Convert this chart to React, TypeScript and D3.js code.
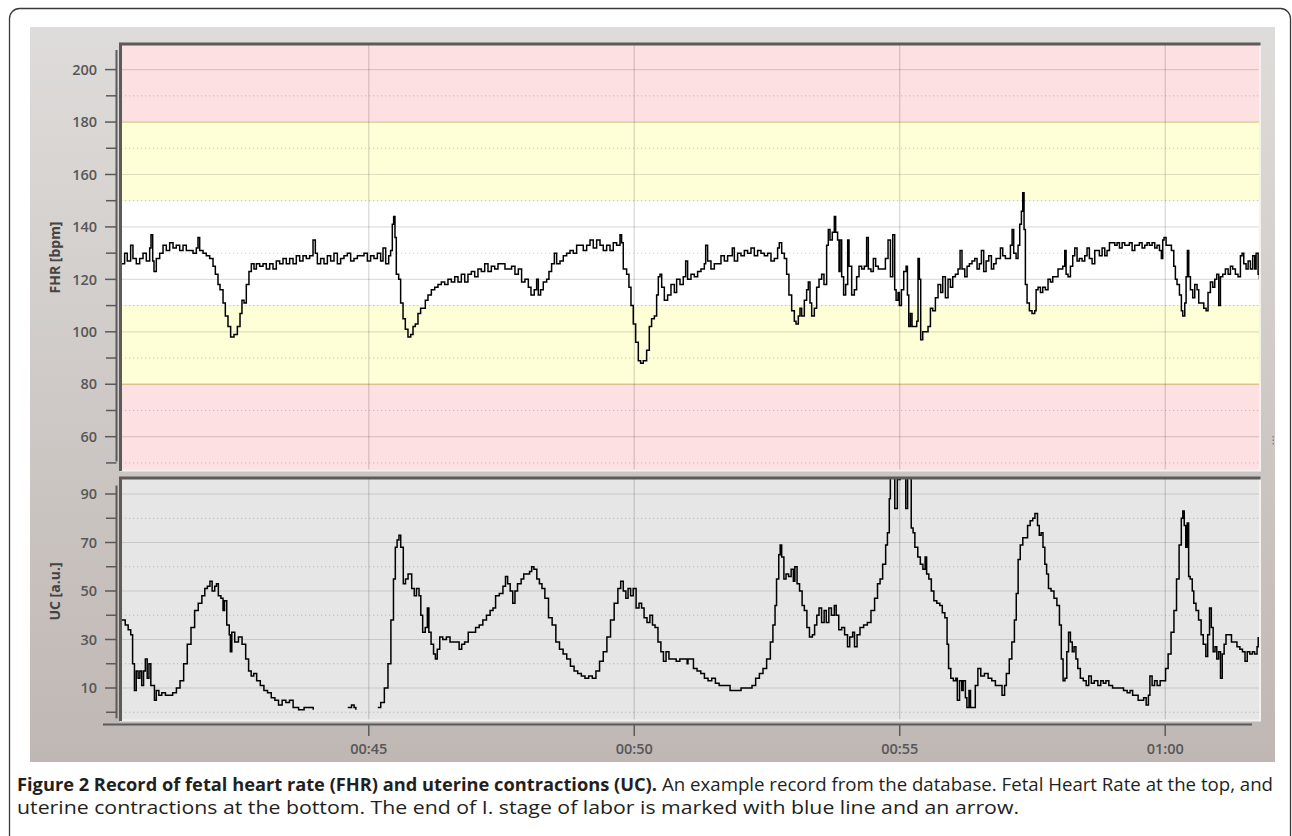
import React from "react";
import * as d3 from "d3";

// ---- DATA (time in seconds after 00:40:00) ----
const timeTicks = [300, 600, 900, 1200];
const timeLabels = ["00:45", "00:50", "00:55", "01:00"];
const fhrTicks = [60, 80, 100, 120, 140, 160, 180, 200];
const fhrMinorTicks = [50, 70, 90, 110, 130, 150, 170, 190];
const ucTicks = [10, 30, 50, 70, 90];
const ucMinorTicks = [0, 20, 40, 60, 80];
// normal band 110-150, suspicious 80-110 & 150-180, pathological outside
const fhrLimits = [80, 110, 150, 180];

const fhrSamples: [number, number][] = [
[20.4,126],[24.1,130],[27.1,127],[30.9,133],[33.5,128],[37.3,126],[41.1,128],[44.9,130],[48.6,127],[52.4,132],[53.9,137],[55.8,127],[57.3,123],[59.9,128],[63.7,130],[67.5,133],[71.2,131],[75.0,134],[78.8,132],[82.5,133],[86.3,131],[90.1,133],[93.8,131],[97.6,131],[101.4,130],[105.1,132],[107.0,136],[108.9,131],[112.7,130],[116.4,129],[120.2,128],[124.0,125],[126.6,122],[129.6,118],[131.9,116],[135.3,111],[137.9,106],[140.9,102],[143.9,98],[147.7,99],[151.5,102],[154.5,107],[156.7,112],[159.0,111],[161.6,118],[164.6,123],[167.3,126],[170.3,124],[173.0,126],[176.7,125],[180.5,126],[184.2,124],[188.0,126],[191.8,124],[195.5,127],[199.3,126],[203.1,128],[206.8,126],[210.6,128],[214.4,126],[218.1,129],[221.9,127],[225.7,129],[229.4,128],[233.2,129],[237.0,135],[239.6,130],[241.9,126],[245.6,128],[249.4,126],[253.2,129],[256.9,127],[260.7,130],[264.5,126],[268.2,128],[272.0,129],[275.8,130],[279.5,127],[283.3,128],[287.1,129],[290.8,129],[294.6,130],[298.4,127],[302.1,129],[305.9,128],[309.7,130],[313.4,127],[316.1,132],[319.1,126],[322.5,129],[324.7,131],[326.6,141],[328.1,144],[329.6,136],[331.1,122],[333.8,120],[336.0,111],[338.7,105],[341.3,101],[344.3,98],[347.4,99],[350.0,102],[352.6,103],[355.6,107],[358.6,109],[361.3,109],[363.9,112],[366.9,114],[370.7,116],[374.5,117],[378.2,118],[382.0,119],[385.8,118],[389.5,120],[393.3,119],[397.1,121],[400.8,119],[404.6,122],[408.4,119],[412.1,122],[415.9,123],[419.7,121],[423.4,124],[427.2,123],[431.0,126],[434.7,123],[438.5,125],[442.3,124],[446.0,126],[449.8,126],
[453.9,124],[457.7,124],[461.4,125],[465.2,122],[469.0,124],[472.7,119],[476.5,120],[480.3,117],[483.3,114],[487.0,116],[489.7,120],[491.6,114],[494.2,116],[497.2,119],[501.0,120],[503.6,123],[506.6,126],[509.7,130],[512.3,126],[516.1,127],[519.8,129],[523.6,130],[527.4,131],[531.1,130],[534.9,133],[538.7,133],[542.4,131],[546.2,133],[550.0,135],[553.7,132],[557.5,135],[561.3,133],[565.0,131],[568.8,133],[572.6,131],[576.3,134],[580.1,133],[583.9,137],[585.7,134],[587.6,124],[591.4,122],[594.0,117],[596.3,110],[598.9,103],[601.6,96],[604.6,89],[607.2,88],[610.2,89],[614.0,93],[617.0,102],[619.6,105],[622.7,106],[625.3,114],[627.2,121],[629.1,122],[631.0,117],[634.0,112],[637.7,114],[641.5,118],[645.3,115],[647.9,120],[651.7,118],[655.4,121],[658.1,127],[660.3,120],[664.1,122],[667.9,121],[671.6,123],[675.4,124],[679.2,126],[680.7,133],[682.9,127],[686.7,124],[690.5,126],[694.2,126],[698.0,129],[701.8,127],[705.5,129],[709.3,129],[710.8,132],[713.1,127],[716.8,130],[720.6,129],[724.4,131],[728.1,130],[731.9,132],[735.7,129],[739.4,131],[743.2,130],[747.0,129],[750.7,130],[754.5,127],[758.3,128],[762.0,132],[763.9,134],[766.6,130],[769.6,128],[772.2,122],[774.8,114],[777.9,108],[780.9,104],[782.8,103],[785.4,106],[787.3,109],[789.2,106],[792.2,112],[794.8,116],[796.7,119],[798.6,111],[800.5,106],[803.5,109],[806.1,117],[808.8,120],[811.8,122],[814.4,118],[817.4,133],[819.3,139],[821.2,135],[823.8,138],[826.1,144],[827.6,138],[829.8,135],[831.4,123],[832.5,135],[834.4,121],[836.6,114],[838.9,118],[841.2,135],[842.7,125],[845.7,114],[848.7,116],[851.3,121],[854.0,125],[857.0,124],[860.0,125],[862.6,136],[864.5,124],[867.5,123],[870.2,128],[872.8,125],[875.8,124],
[880.0,124],[883.8,128],[886.8,135],[889.5,121],[892.1,137],[894.3,116],[895.9,112],[898.1,115],[899.6,110],[901.9,116],[904.5,123],[907.2,125],[908.7,114],[910.2,102],[912.1,107],[913.9,102],[917.0,102],[919.2,104],[920.7,128],[922.2,120],[923.7,97],[926.0,100],[929.0,100],[932.0,102],[934.7,109],[937.3,108],[940.3,113],[943.3,118],[946.3,115],[948.6,121],[951.6,113],[954.6,120],[957.3,117],[959.9,121],[962.9,122],[965.9,124],[968.2,131],[970.4,124],[973.5,121],[976.1,125],[978.7,126],[981.7,127],[984.8,128],[987.4,124],[990.0,126],[992.3,131],[994.9,123],[997.6,127],[1000.6,129],[1003.6,124],[1006.2,126],[1008.9,128],[1011.9,128],[1013.8,132],[1016.4,129],[1019.4,128],[1022.4,128],[1025.1,133],[1027.0,139],[1028.8,130],[1031.5,128],[1033.7,133],[1035.6,141],[1037.5,146],[1039.0,153],[1040.5,139],[1042.0,118],[1043.9,111],[1046.5,108],[1049.5,107],[1052.6,108],[1054.1,116],[1056.3,117],[1059.0,115],[1061.6,117],[1064.6,116],[1067.6,120],[1070.3,119],[1072.9,121],[1075.9,121],[1078.9,124],[1081.6,124],[1084.2,125],[1086.5,131],[1088.0,122],[1090.2,121],[1092.9,125],[1095.5,129],[1097.8,132],[1100.4,127],[1103.0,128],[1106.1,127],[1109.1,129],[1111.7,132],[1114.3,128],[1117.4,126],[1120.4,131],[1123.0,131],[1125.6,129],[1128.7,132],[1131.7,129],[1134.3,131],[1137.0,134],[1140.0,134],[1143.0,133],[1145.6,134],[1148.3,132],[1151.3,134],[1154.3,133],[1156.9,133],[1159.5,134],[1162.6,131],[1165.6,133],[1168.2,133],[1170.8,134],[1173.9,132],[1176.9,133],[1179.5,134],[1182.1,133],[1185.2,134],[1188.2,132],[1190.8,133],[1193.5,131],[1195.7,128],[1197.2,135],[1198.7,136],[1201.0,133],[1204.0,133],[1207.0,131],[1209.7,125],[1211.5,120],[1213.4,118],[1216.1,114],[1218.3,108],[1219.8,106],[1222.1,111],[1223.6,121],[1225.1,131],[1226.6,121],[1228.5,116],[1231.1,113],[1233.4,118],[1236.0,116],[1237.9,111],[1240.9,111],[1243.6,109],[1246.2,108],[1248.4,115],[1251.1,119],[1253.7,117],[1256.0,120],[1258.2,122],[1260.5,110],[1262.4,121],[1265.0,122],[1268.0,124],[1271.1,122],[1273.7,125],[1276.3,124],[1279.3,122],[1282.3,121],[1285.0,129],[1286.9,130],[1288.8,126],[1291.4,124],[1293.7,127],[1296.3,124],[1298.9,129],[1301.2,124],[1302.7,130],[1305.0,122],[1306.5,120]
];

const ucSamples: [number, number | null][] = [
[20.7,38],[24.8,36],[28.1,34],[31.0,32],[33.1,20],[35.2,9],[37.2,17],[39.3,14],[41.3,17],[43.4,11],[45.5,17],[47.5,22],[49.6,14],[51.6,20],[53.7,11],[55.8,11],[57.8,5],[59.9,9],[62.8,7],[66.1,8],[70.2,7],[74.3,7],[78.4,8],[82.6,10],[86.7,13],[90.8,20],[94.9,28],[99.1,35],[103.2,42],[107.3,45],[111.4,48],[114.7,51],[117.6,52],[120.5,54],[123.0,50],[125.9,52],[127.9,53],[130.0,48],[132.9,47],[135.3,42],[137.0,46],[139.5,36],[142.3,32],[143.6,25],[145.2,33],[148.5,29],[152.7,31],[156.8,28],[160.9,22],[164.2,17],[167.1,15],[170.0,16],[173.3,13],[177.4,11],[181.5,9],[185.6,8],[189.8,6],[193.9,5],[198.0,3],[202.1,5],[206.3,4],[210.4,5],[214.5,2],[220.7,1],[226.9,2],[233.1,2],[237.2,1],[238,null],
[276.3,2],[280.5,3],[283.4,2],[285.4,1],[286,null],
[310.2,2],[313.5,4],[317.6,10],[321.7,20],[325.0,38],[327.9,55],[330.0,68],[332.0,71],[334.1,73],[336.1,68],[337.4,68],[339.0,53],[341.5,55],[344.4,57],[346.4,57],[348.5,51],[351.4,48],[353.9,51],[356.8,48],[358.8,40],[360.9,33],[363.8,35],[366.2,43],[367.9,33],[370.4,28],[373.2,24],[375.3,22],[377.4,26],[380.2,31],[383.6,30],[387.7,31],[391.8,29],[395.9,29],[400.0,29],[402.1,26],[405.0,28],[408.3,29],[412.4,33],[416.5,33],[420.7,35],[424.8,36],[428.9,38],[433.0,40],[437.1,42],[440.4,43],[443.3,48],[447.5,49],[451.6,52],[454.5,56],[456.9,53],[459.8,50],[462.7,45],[465.2,50],[468.1,53],[472.2,55],[475.1,57],[478.4,57],[481.7,58],[484.1,60],[486.6,59],[489.9,55],[492.8,53],[495.7,51],[499.0,47],[503.1,39],[507.2,36],[511.4,29],[515.5,26],[519.6,24],[523.7,22],[527.9,19],[532.0,17],[536.1,16],[540.2,15],[544.3,14],[548.5,15],[552.6,14],[556.7,17],[560.8,21],[565.0,25],[569.1,31],[573.2,38],[577.3,45],[581.5,51],[584.7,54],[587.6,50],[590.5,47],[593.0,51],[595.9,48],[598.8,51],[602.1,43],[605.4,45],[608.3,43],[611.1,39],[614.4,37],[617.7,40],[620.6,36],[623.5,35],[626.8,29],[630.1,25],[633.0,21],[635.9,25],[639.2,22],[643.3,22],[647.4,21],[651.5,22],[655.7,22],[659.8,20],
[660.7,22],[664.0,22],[666.9,18],[671.0,17],[675.2,16],[679.3,14],[683.4,13],[687.6,14],[691.7,12],[695.9,11],[700.0,11],[704.1,11],[708.3,9],[712.4,9],[716.5,9],[720.7,10],[724.8,10],[728.9,10],[733.1,11],[737.2,14],[741.4,16],[745.5,18],[749.6,22],[753.8,29],[756.7,36],[759.1,44],[760.8,55],[763.3,65],[764.9,69],[766.6,64],[769.1,55],[771.5,57],[774.4,56],[777.3,59],[779.8,54],[781.5,60],[784.0,53],[786.8,50],[789.7,44],[792.2,42],[795.1,35],[798.0,31],[801.3,32],[803.8,36],[806.3,40],[808.8,43],[811.7,37],[814.6,42],[817.0,37],[819.9,43],[822.8,40],[826.1,44],[828.2,40],[831.1,34],[834.4,35],[837.7,32],[841.0,27],[843.5,31],[846.8,33],[848.9,27],[851.8,32],[855.1,35],[859.2,36],[863.4,37],[867.5,42],[871.6,47],[874.9,53],[877.8,55],[880.7,61],[884.1,69],[886.1,74],[888.2,88],[889.4,100],[892,100],[894.4,84],[897.3,96],[900.6,100],[904.7,100],[906.8,84],[908.9,100],[910.9,100],[913.0,76],[915.1,74],[917.1,68],[920.4,64],[923.3,61],[926.2,59],[928.7,64],[930.4,57],[932.9,55],[935.7,50],[938.6,46],[941.9,45],[945.3,44],[948.1,41],[951.0,39],[953.5,28],[955.2,18],[957.7,14],[960.6,13],[963.4,14],[965.1,5],[967.6,13],[970.1,9],[971.7,13],[974.2,6],[975.9,2],[978.3,9],[980.0,2],[982.5,2],[985.4,11],[988.3,18],[991.6,15],[995.7,16],[999.9,14],[1004.0,13],[1008.1,11],[1012.3,11],[1015.6,7],[1018.5,11],[1020.5,16],[1023.8,22],[1026.7,29],[1029.6,38],[1031.7,49],[1033.8,63],[1036.2,69],[1039.1,72],[1042.0,72],[1044.5,77],[1047.4,79],[1050.3,80],[1052.8,82],[1055.7,77],[1057.7,73],[1059.8,74],[1061.9,68],[1064.0,61],[1066.0,57],[1068.1,51],[1071.0,50],[1074.3,47],[1077.6,44],[1080.5,36],[1082.6,22],[1084.6,13],[1086.7,14],[1088.8,25],[1090.8,33],[1092.9,29],[1095.0,25],[1097.0,27],[1099.1,22],[1101.2,18],[1104.1,14],[1107.4,13],[1110.7,11],[1113.6,15],[1116.5,12],[1119.8,13],[1123.9,11],[1127.2,13],[1130.1,12],[1133.0,13],[1136.3,11],[1140.5,10],[1144.6,10],[1148.7,10],[1152.9,9],[1157.0,8],[1160.3,9],[1163.2,7],[1166.1,7],[1169.4,5],[1172.7,5],[1175.6,6],[1178.5,3],[1181.0,7],[1182.7,15],[1185.2,11],[1188.0,13],[1190.9,11],[1194.3,13],[1197.6,13],[1200.4,18],[1203.3,24],[1206.6,33],[1209.9,42],[1212.8,55],[1215.7,69],[1218.2,80],[1219.9,83],[1221.5,77],[1223.2,68],[1224.9,78],[1226.5,56],[1228.2,55],[1230.6,50],[1232.3,45],[1234.8,42],[1237.7,38],[1240.6,32],[1243.0,28],[1245.9,23],[1248.0,32],[1250.1,43],[1252.1,35],[1254.2,25],[1256.3,27],[1258.3,22],[1260.4,25],[1262.5,14],[1264.5,24],[1266.6,28],[1268.7,32],[1272.0,32],[1274.9,29],[1277.8,29],[1281.1,27],[1284.4,26],[1287.3,25],[1290.2,21],[1292.7,25],[1295.6,24],[1298.5,25],[1301.0,24],[1303.8,27],[1305.1,31]
];

const captionBold = "Figure 2 Record of fetal heart rate (FHR) and uterine contractions (UC).";
const captionRest1 = "An example record from the database. Fetal Heart Rate at the top, and";
const captionLine2 = "uterine contractions at the bottom. The end of I. stage of labor is marked with blue line and an arrow.";

// ---- LAYOUT ----
const W = 1292, H = 836;
const PL = 121, PR = 1259;
const F_TOP = 45, F_BOT = 470;
const U_TOP = 479, U_BOT = 720;
const FONT = "'Open Sans', 'Noto Sans', sans-serif";

export default function App() {
  const x = d3.scaleLinear().domain([20, 1306]).range([PL, PR]);
  const yF = d3.scaleLinear().domain([60, 200]).range([436.7, 69.6]);
  const yU = d3.scaleLinear().domain([10, 90]).range([688, 494]);

  const fhrLine = d3.line<[number, number]>()
    .x(d => x(d[0])).y(d => yF(d[1])).curve(d3.curveStepAfter);
  const ucLine = d3.line<[number, number | null]>()
    .defined(d => d[1] !== null)
    .x(d => x(d[0])).y(d => yU(d[1] as number)).curve(d3.curveStepAfter);

  const red = "#fde0e1", yellow = "#fefed7", white = "#ffffff";
  const [l80, l110, l150, l180] = fhrLimits;
  const bands = [
    { y0: F_TOP, y1: yF(l180), c: red },
    { y0: yF(l180), y1: yF(l150), c: yellow },
    { y0: yF(l150), y1: yF(l110), c: white },
    { y0: yF(l110), y1: yF(l80), c: yellow },
    { y0: yF(l80), y1: F_BOT, c: red },
  ];

  const tickText = { fontFamily: FONT, fontSize: 14.5, fontWeight: 600, fill: "#575757" } as const;

  const frame = (top: number, bot: number) => (
    <g>
      <line x1={PL - 1} x2={PR + 1} y1={bot + 0.5} y2={bot + 0.5} stroke="#f4f2f1" strokeWidth={2} />
      <line x1={PR + 1} x2={PR + 1} y1={top} y2={bot + 1.5} stroke="#f4f2f1" strokeWidth={2} />
      <path d={`M${PL - 0.5},${bot + 1} V${top - 1} H${PR + 1.5}`} fill="none" stroke="#5d5b5a" strokeWidth={3} />
    </g>
  );

  return (
    <svg width={W} height={H} style={{ position: "absolute", left: 0, top: 0, background: "#fff" }}>
      <defs>
        <linearGradient id="panelGrad" x1="0" y1="0" x2="0" y2="1">
          <stop offset="0" stopColor="#dedcda" />
          <stop offset="1" stopColor="#bfb7b3" />
        </linearGradient>
        <clipPath id="clipF"><rect x={PL} y={F_TOP} width={PR - PL} height={F_BOT - F_TOP} /></clipPath>
        <clipPath id="clipU"><rect x={PL} y={U_TOP} width={PR - PL} height={U_BOT - U_TOP} /></clipPath>
      </defs>

      {/* outer figure frame */}
      <rect x={9.5} y={8.5} width={1281} height={860} rx={10} fill="none" stroke="#3a3a3a" strokeWidth={1.3} />

      {/* chart panel */}
      <rect x={30} y={27} width={1245} height={735} fill="url(#panelGrad)" />

      {/* ---------- FHR plot ---------- */}
      <g clipPath="url(#clipF)">
        {bands.map((b, i) => (
          <rect key={i} x={PL} y={b.y0} width={PR - PL} height={b.y1 - b.y0} fill={b.c} />
        ))}
        <line x1={PL} x2={PR} y1={yF(l180)} y2={yF(l180)} stroke="#f3eaa8" strokeWidth={1.5} />
        <line x1={PL} x2={PR} y1={yF(l80)} y2={yF(l80)} stroke="#f5d3a0" strokeWidth={1.5} />
        {fhrMinorTicks.map(v => (
          <line key={"fm" + v} x1={PL} x2={PR} y1={yF(v)} y2={yF(v)} stroke="rgba(0,0,0,0.2)" strokeWidth={1} strokeDasharray="1.2,2.8" />
        ))}
        {fhrTicks.map(v => (
          <line key={"fg" + v} x1={PL} x2={PR} y1={yF(v)} y2={yF(v)} stroke="rgba(0,0,0,0.13)" strokeWidth={1.2} />
        ))}
        {timeTicks.map(t => (
          <line key={"fv" + t} x1={x(t)} x2={x(t)} y1={F_TOP} y2={F_BOT} stroke="rgba(0,0,0,0.16)" strokeWidth={1.2} />
        ))}
        <path d={fhrLine(fhrSamples) || ""} fill="none" stroke="#000" strokeWidth={1.5} strokeLinejoin="miter" />
      </g>
      {frame(F_TOP, F_BOT)}

      {/* ---------- UC plot ---------- */}
      <g clipPath="url(#clipU)">
        <rect x={PL} y={U_TOP} width={PR - PL} height={U_BOT - U_TOP} fill="#e6e6e6" />
        {ucMinorTicks.map(v => (
          <line key={"um" + v} x1={PL} x2={PR} y1={yU(v)} y2={yU(v)} stroke="rgba(0,0,0,0.2)" strokeWidth={1} strokeDasharray="1.2,2.8" />
        ))}
        {ucTicks.map(v => (
          <line key={"ug" + v} x1={PL} x2={PR} y1={yU(v)} y2={yU(v)} stroke="rgba(0,0,0,0.13)" strokeWidth={1.2} />
        ))}
        {timeTicks.map(t => (
          <line key={"uv" + t} x1={x(t)} x2={x(t)} y1={U_TOP} y2={U_BOT} stroke="rgba(0,0,0,0.16)" strokeWidth={1.2} />
        ))}
        <path d={ucLine(ucSamples) || ""} fill="none" stroke="#000" strokeWidth={1.5} />
      </g>
      {frame(U_TOP, U_BOT)}

      {/* ---------- left axes ---------- */}
      <line x1={116.5} x2={116.5} y1={yF(207.5)} y2={yF(50.5)} stroke="#5a5a5a" strokeWidth={2} />
      {fhrMinorTicks.map(v => (
        <line key={"fmt" + v} x1={106} x2={116.5} y1={yF(v)} y2={yF(v)} stroke="#5a5a5a" strokeWidth={1.5} />
      ))}
      {fhrTicks.map(v => (
        <g key={"ft" + v}>
          <line x1={105} x2={116.5} y1={yF(v)} y2={yF(v)} stroke="#5a5a5a" strokeWidth={1.5} />
          <text x={97} y={yF(v)} dy="0.36em" textAnchor="end" style={tickText}>{v}</text>
        </g>
      ))}
      <text transform={`translate(60,${(F_TOP + F_BOT) / 2}) rotate(-90)`} textAnchor="middle"
        style={{ fontFamily: FONT, fontSize: 14, fontWeight: 700, fill: "#444" }}>FHR [bpm]</text>

      <line x1={116.5} x2={116.5} y1={yU(93.5)} y2={yU(-2.5)} stroke="#5a5a5a" strokeWidth={2} />
      {ucMinorTicks.map(v => (
        <line key={"umt" + v} x1={106} x2={116.5} y1={yU(v)} y2={yU(v)} stroke="#5a5a5a" strokeWidth={1.5} />
      ))}
      {ucTicks.map(v => (
        <g key={"ut" + v}>
          <line x1={105} x2={116.5} y1={yU(v)} y2={yU(v)} stroke="#5a5a5a" strokeWidth={1.5} />
          <text x={97} y={yU(v)} dy="0.36em" textAnchor="end" style={tickText}>{v}</text>
        </g>
      ))}
      <text transform={`translate(60,${(U_TOP + U_BOT) / 2 - 8}) rotate(-90)`} textAnchor="middle"
        style={{ fontFamily: FONT, fontSize: 14, fontWeight: 700, fill: "#444" }}>UC [a.u.]</text>

      {/* ---------- time axis ---------- */}
      <line x1={103} x2={1252} y1={724.5} y2={724.5} stroke="#5a5a5a" strokeWidth={2} />
      {timeTicks.map((t, i) => (
        <g key={"tt" + t}>
          <line x1={x(t)} x2={x(t)} y1={724.5} y2={736} stroke="#5a5a5a" strokeWidth={1.5} />
          <text x={x(t)} y={748.5} dy="0.36em" textAnchor="middle" style={tickText}>{timeLabels[i]}</text>
        </g>
      ))}

      {/* splitter grip */}
      {[0, 1, 2].map(i => (
        <rect key={"g" + i} x={1272.5} y={436 + i * 3.5} width={1.5} height={1.5} fill="#8a8280" />
      ))}

      {/* ---------- caption ---------- */}
      <text x={17} y={791} textLength={640} lengthAdjust="spacingAndGlyphs"
        style={{ fontFamily: FONT, fontSize: 17.5, fontWeight: 700, fill: "#231f20" }}>{captionBold}</text>
      <text x={662} y={791} textLength={611} lengthAdjust="spacingAndGlyphs"
        style={{ fontFamily: FONT, fontSize: 17.5, fill: "#231f20" }}>{captionRest1}</text>
      <text x={17} y={814} textLength={1002} lengthAdjust="spacingAndGlyphs"
        style={{ fontFamily: FONT, fontSize: 17.5, fill: "#231f20" }}>{captionLine2}</text>
    </svg>
  );
}
